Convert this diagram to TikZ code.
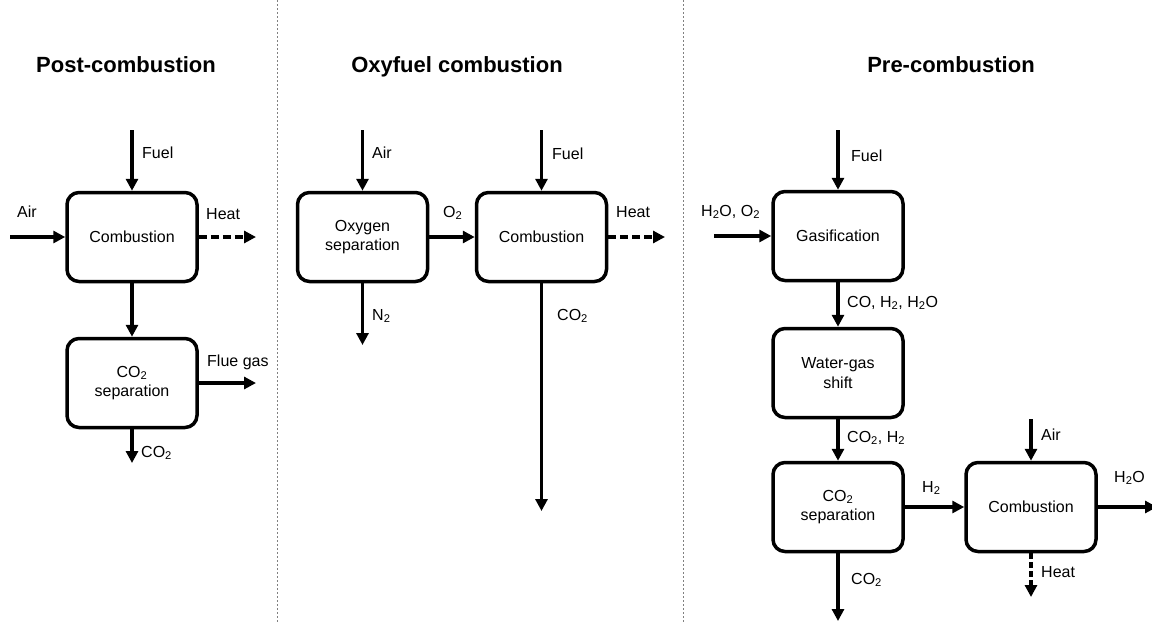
\documentclass[tikz,border=0pt]{standalone}
\usepackage{fontspec}
\setmainfont{Liberation Sans}
\usepackage{tikz}
\usetikzlibrary{arrows.meta,calc}

\begin{document}
\begin{tikzpicture}[x=1pt,y=-1pt,line cap=butt,line join=round,
  proc/.style={draw,line width=3.5pt,rounded corners=12pt,minimum width=130pt,minimum height=89pt,align=center,font=\fontsize{16}{19.5}\selectfont,inner sep=0pt},
  flow/.style={line width=3.3pt,-{Triangle[length=12pt,width=12pt]}},
  heatflow/.style={flow,dash pattern=on 8pt off 4pt},
  lbl/.style={anchor=west,inner sep=0pt,font=\fontsize{16}{19.5}\selectfont},
  ttl/.style={anchor=base,inner sep=0pt,font=\fontsize{22}{26}\selectfont\bfseries},
  sepline/.style={gray,line width=0.9pt,dash pattern=on 1.5pt off 2.5pt}]
\useasboundingbox (0,0) rectangle (1152,622);
% column separators
\draw [sepline] (277,0) -- (277,622);
\draw [sepline] (683,0) -- (683,622);
% titles
\node[ttl] (tpost) at (126,72) {Post-combustion};
\node[ttl] (toxy) at (457,72) {Oxyfuel combustion};
\node[ttl] (tpre) at (951,72) {Pre-combustion};
% post-combustion
\node[proc] (pcomb) at (132,237) {Combustion};
\node[proc] (psep) at (132,383) {CO\textsubscript{2}\\separation};
\coordinate (pfuel) at (132,130);
\coordinate (pair) at (10,237);
\coordinate (pheat) at (256,237);
\coordinate (pflue) at (256,383);
\coordinate (pco) at (132,463);
\draw [flow] (pfuel) -- (pcomb);
\draw [flow] (pair) -- (pcomb);
\draw [heatflow] (pcomb) -- (pheat);
\draw [flow] (pcomb) -- (psep);
\draw [flow] (psep) -- (pflue);
\draw [flow] (psep) -- (pco);
\node[lbl] (lpfuel) at (142,153) {Fuel};
\node[lbl] (lpair) at (17,212) {Air};
\node[lbl] (lpheat) at (206,214) {Heat};
\node[lbl] (lpflue) at (207,362) {Flue gas};
\node[lbl] (lpco) at (141,453) {CO\textsubscript{2}};
% oxyfuel combustion
\node[proc] (osep) at (362.5,237) {Oxygen\\separation};
\node[proc] (ocomb) at (541.5,237) {Combustion};
\coordinate (oair) at (362.5,130);
\coordinate (on) at (362.5,345);
\coordinate (ofuel) at (541.5,130);
\coordinate (oheat) at (665,237);
\coordinate (oco) at (541.5,511);
\draw [flow] (oair) -- (osep);
\draw [flow] (osep) -- (on);
\draw [flow] (osep) -- (ocomb);
\draw [flow] (ofuel) -- (ocomb);
\draw [heatflow] (ocomb) -- (oheat);
\draw [flow] (ocomb) -- (oco);
\node[lbl] (loair) at (372,153) {Air};
\node[lbl] (lon) at (372,316) {N\textsubscript{2}};
\node[lbl] (loo) at (443,213) {O\textsubscript{2}};
\node[lbl] (lofuel) at (552,154) {Fuel};
\node[lbl] (loheat) at (616,212) {Heat};
\node[lbl] (loco) at (557,316) {CO\textsubscript{2}};
% pre-combustion
\node[proc] (gas) at (838,236) {Gasification};
\node[proc] (shift) at (838,373) {Water-gas\\shift};
\node[proc] (csep) at (838,507) {CO\textsubscript{2}\\separation};
\node[proc] (hcomb) at (1031,507) {Combustion};
\coordinate (gfuel) at (838,130);
\coordinate (gin) at (714,236);
\coordinate (cout) at (838,621);
\coordinate (hair) at (1031,419);
\coordinate (hout) at (1157,507);
\coordinate (hheat) at (1031,597);
\draw [flow] (gfuel) -- (gas);
\draw [flow] (gin) -- (gas);
\draw [flow] (gas) -- (shift);
\draw [flow] (shift) -- (csep);
\draw [flow] (csep) -- (cout);
\draw [flow] (csep) -- (hcomb);
\draw [flow] (hair) -- (hcomb);
\draw [flow] (hcomb) -- (hout);
\draw [heatflow,dash pattern=on 6pt off 3pt] (hcomb) -- (hheat);
\node[lbl] (lgfuel) at (851,156) {Fuel};
\node[lbl] (lgin) at (701,212) {H\textsubscript{2}O, O\textsubscript{2}};
\node[lbl] (lsyn) at (847,303) {CO, H\textsubscript{2}, H\textsubscript{2}O};
\node[lbl] (lshift) at (847,438) {CO\textsubscript{2}, H\textsubscript{2}};
\node[lbl] (lcout) at (851,580) {CO\textsubscript{2}};
\node[lbl] (lhh) at (922,488) {H\textsubscript{2}};
\node[lbl] (lhair) at (1041,435) {Air};
\node[lbl] (lhout) at (1114,478) {H\textsubscript{2}O};
\node[lbl] (lhheat) at (1041,572) {Heat};
\end{tikzpicture}
\end{document}
